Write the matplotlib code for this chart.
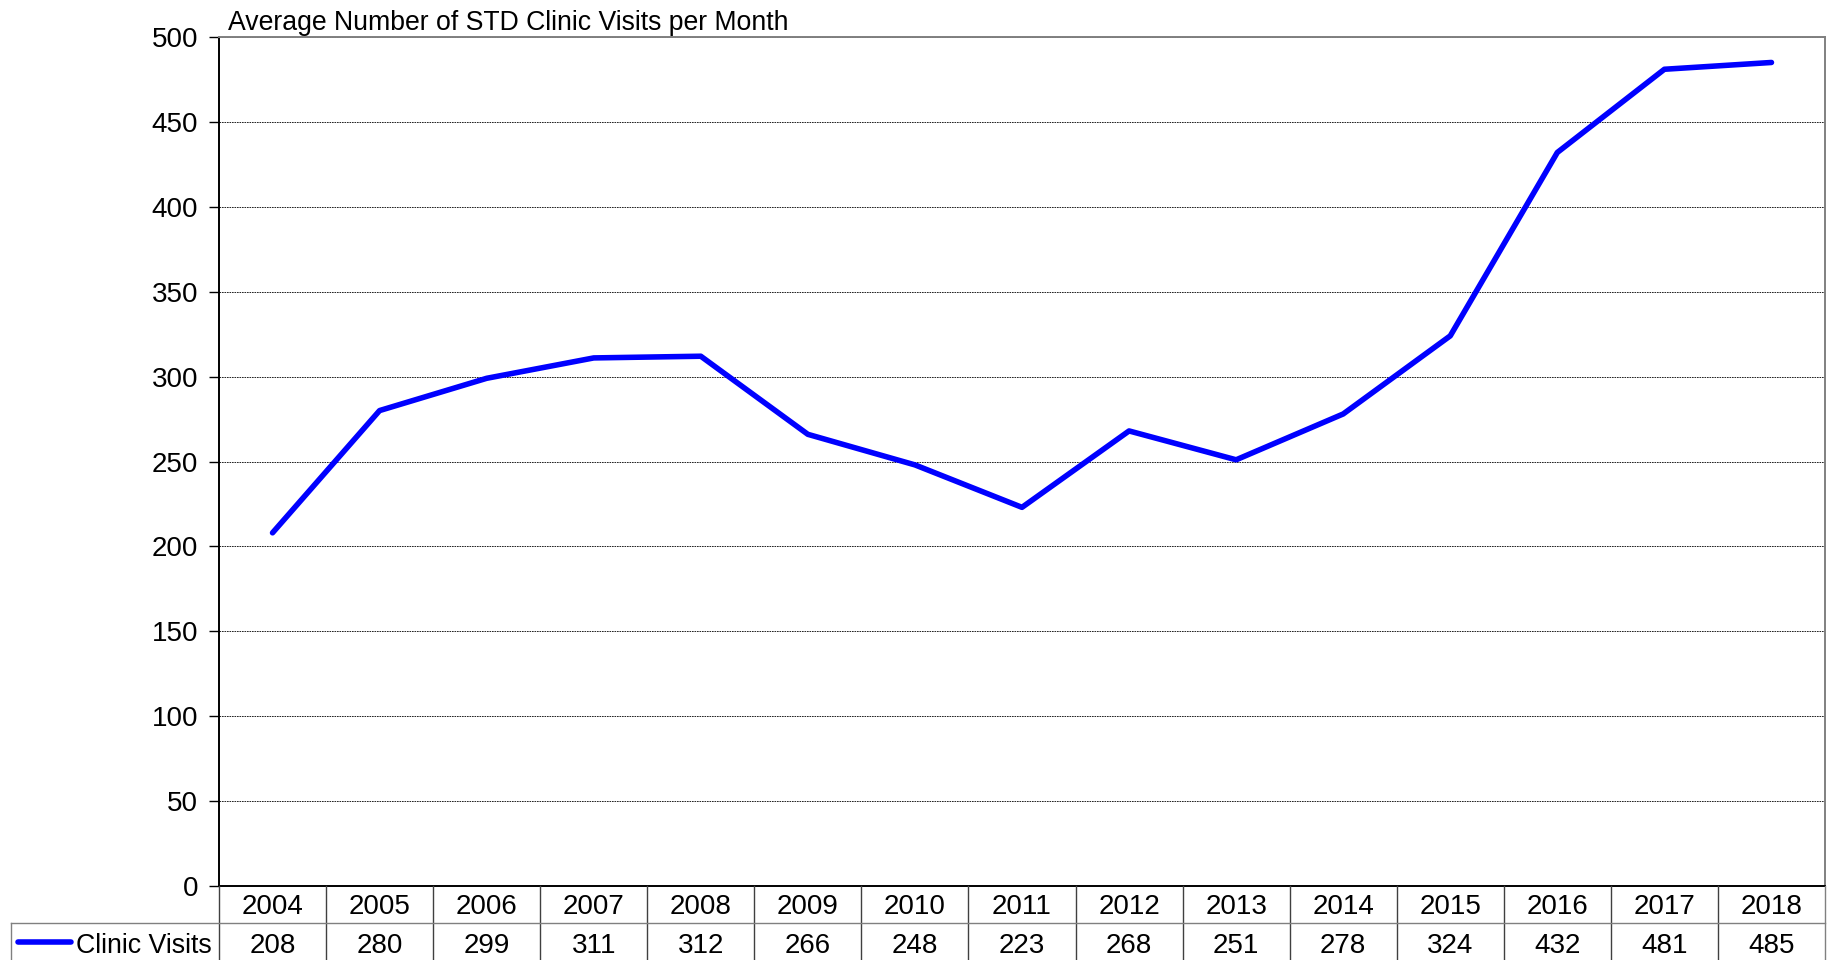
import matplotlib
matplotlib.use("Agg")
import matplotlib.pyplot as plt
from matplotlib.transforms import blended_transform_factory
from matplotlib.lines import Line2D

plt.rcParams['font.family'] = ['Liberation Sans', 'DejaVu Sans']

years = ["2004", "2005", "2006", "2007", "2008", "2009", "2010", "2011",
         "2012", "2013", "2014", "2015", "2016", "2017", "2018"]
visits = [208, 280, 299, 311, 312, 266, 248, 223, 268, 251, 278, 324, 432, 481, 485]
series_name = "Clinic Visits"
title = "Average Number of STD Clinic Visits per Month"
yticks = [0, 50, 100, 150, 200, 250, 300, 350, 400, 450, 500]

W, H = 1830, 960
FS = 20
fig = plt.figure(figsize=(W / 100, H / 100), dpi=100)
L, R, T, B = 219, 1825, 37, 886
ax = fig.add_axes([L / W, 1 - B / H, (R - L) / W, (B - T) / H])

x = list(range(len(years)))
ax.plot(x, visits, color="#0000FF", lw=4.0, solid_capstyle="round", solid_joinstyle="round", zorder=3)
ax.set_xlim(-0.5, len(years) - 0.5)
ax.set_ylim(0, 500)
ax.set_yticks(yticks)
ax.set_yticklabels([str(v) for v in yticks], fontsize=FS)
ax.tick_params(axis="y", length=7, width=1, pad=8, color="black")
ax.set_xticks([])
ax.yaxis.grid(True, color="black", linestyle=(0, (2, 1)), linewidth=0.6)
ax.set_axisbelow(True)
ax.spines["left"].set_color("black")
ax.spines["bottom"].set_color("black")
ax.spines["top"].set_color("#808080")
ax.spines["right"].set_color("#808080")
for s in ax.spines.values():
    s.set_linewidth(1.4)

fig.text(228 / W, 1 - 23 / H, title, fontsize=19.2, ha="left", va="center")

# data table below the axes
tr = blended_transform_factory(ax.transData, fig.transFigure)
def fy(p):
    return 1 - p / H

row1_top, row2_top, row_bot = B, 923, 962
for i in range(len(years) + 1):
    xv = i - 0.5
    col = "#808080" if i == len(years) else "#404040"
    fig.add_artist(Line2D([xv, xv], [fy(row1_top), fy(row_bot)], transform=tr, color=col, lw=1))
fig.add_artist(Line2D([11 / W, R / W], [fy(row2_top), fy(row2_top)], transform=fig.transFigure, color="#808080", lw=1))
fig.add_artist(Line2D([11 / W, 11 / W], [fy(row2_top), fy(row_bot)], transform=fig.transFigure, color="#808080", lw=1))
for i, (yr, v) in enumerate(zip(years, visits)):
    fig.text(i, fy(907), yr, transform=tr, ha="center", va="center", fontsize=FS)
    fig.text(i, fy(946), str(v), transform=tr, ha="center", va="center", fontsize=FS)
fig.add_artist(Line2D([18 / W, 71 / W], [fy(942), fy(942)], transform=fig.transFigure,
                      color="#0000FF", lw=4.0, solid_capstyle="round"))
fig.text(76 / W, fy(946), series_name, ha="left", va="center", fontsize=19.3)

fig.savefig("out.png", dpi=100, facecolor="white")
